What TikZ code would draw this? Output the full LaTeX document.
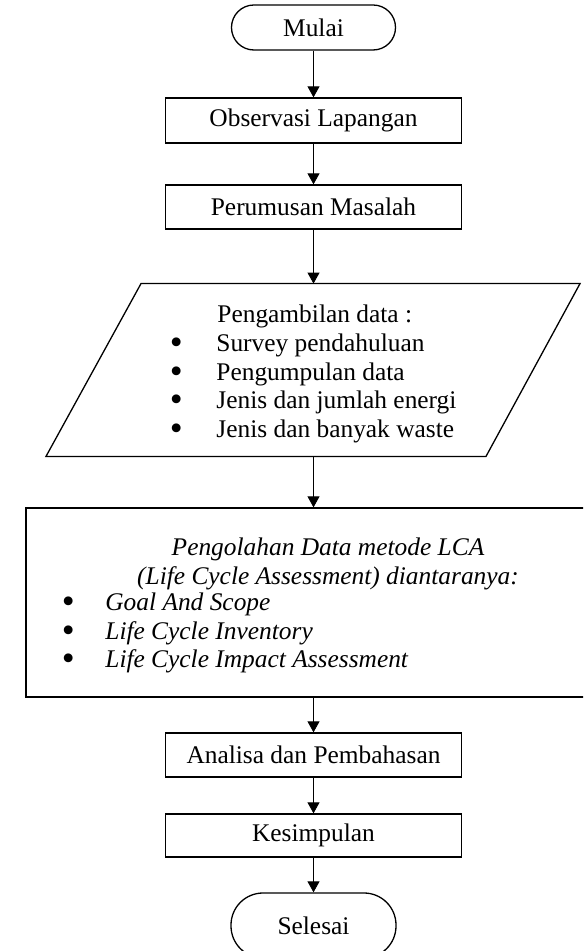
\documentclass[tikz,border=0pt]{standalone}
\usepackage{fontspec}
\usepackage{graphicx}
\setmainfont{Liberation Serif}
\usetikzlibrary{arrows.meta,calc}
\newcommand\bigblt{\makebox[0pt]{\smash{\raisebox{-1.5pt}{\scalebox{1.45}{\textbullet}}}}}
\begin{document}
\begin{tikzpicture}[x=0.5pt,y=-0.5pt,
  txt/.style={font=\fontsize{12.7}{14.4}\selectfont, inner sep=0pt},
  proc/.style={draw, line width=0.65pt, minimum width=148pt, inner sep=0pt, font=\fontsize{12.7}{14.4}\selectfont},
  term/.style={draw, line width=0.65pt, inner sep=0pt, font=\fontsize{12.7}{14.4}\selectfont},
  flow/.style={line width=0.45pt, -{Triangle[length=5.5pt,width=6pt]}},
]
\useasboundingbox (0,0) rectangle (583,951);
\clip (0,0) rectangle (583,951);

% terminals and processes
\node[term, minimum width=82pt, minimum height=22.5pt, rounded corners=11.2pt] (start) at (313.5,27.5) {Mulai};
\node[proc, minimum height=22.5pt] (obs) at (313.5,120.5) {Observasi Lapangan};
\node[proc, minimum height=22pt] (rum) at (313.5,207) {Perumusan Masalah};

% data (parallelogram)
\node[minimum width=100pt, minimum height=86pt, inner sep=0pt] (data) at (313.5,370) {};
\draw[line width=0.65pt] ($(data.north)+(-172.5,0)$) -- ($(data.north)+(266.5,0)$)
  -- ($(data.south)+(172.5,0)$) -- ($(data.south)+(-267.5,0)$) -- cycle;
\node[txt, anchor=west, align=left] (datatext) at (176,374) {%
\hspace*{20.5pt}Pengambilan data :\\
\bigblt\hspace*{20pt}Survey pendahuluan\\
\bigblt\hspace*{20pt}Pengumpulan data\\
\bigblt\hspace*{20pt}Jenis dan jumlah energi\\
\bigblt\hspace*{20pt}Jenis dan banyak waste};

% LCA box
\node[draw, line width=0.65pt, minimum width=287.5pt, minimum height=94.5pt, inner sep=0pt] (lca) at (313.5,602.5) {};
\node[txt, align=center, font=\fontsize{12.7}{14.2}\selectfont\itshape] (lcahead) at (328,564) {%
Pengolahan Data metode LCA\\
(Life Cycle Assessment) diantaranya:};
\node[txt, anchor=west, align=left, font=\fontsize{12.7}{14.2}\selectfont] (lcaitems) at (68,633) {%
\bigblt\hspace*{18.5pt}\textit{Goal And Scope}\\
\bigblt\hspace*{18.5pt}\textit{Life Cycle Inventory}\\
\bigblt\hspace*{18.5pt}\textit{Life Cycle Impact Assessment}};

\node[proc, minimum height=22pt] (ana) at (313.5,755) {Analisa dan Pembahasan};
\node[proc, minimum height=21.5pt] (kes) at (313.5,835.5) {Kesimpulan};
\node[term, minimum width=82.5pt, minimum height=32.5pt, rounded corners=16pt] (end) at (313.5,925.5) {Selesai};

% connectors
\draw[flow] (start) -- (obs);
\draw[flow] (obs) -- (rum);
\draw[flow] (rum) -- (data);
\draw[flow] (data) -- (lca);
\draw[flow] (lca) -- (ana);
\draw[flow] (ana) -- (kes);
\draw[flow] (kes) -- (end);
\end{tikzpicture}
\end{document}
